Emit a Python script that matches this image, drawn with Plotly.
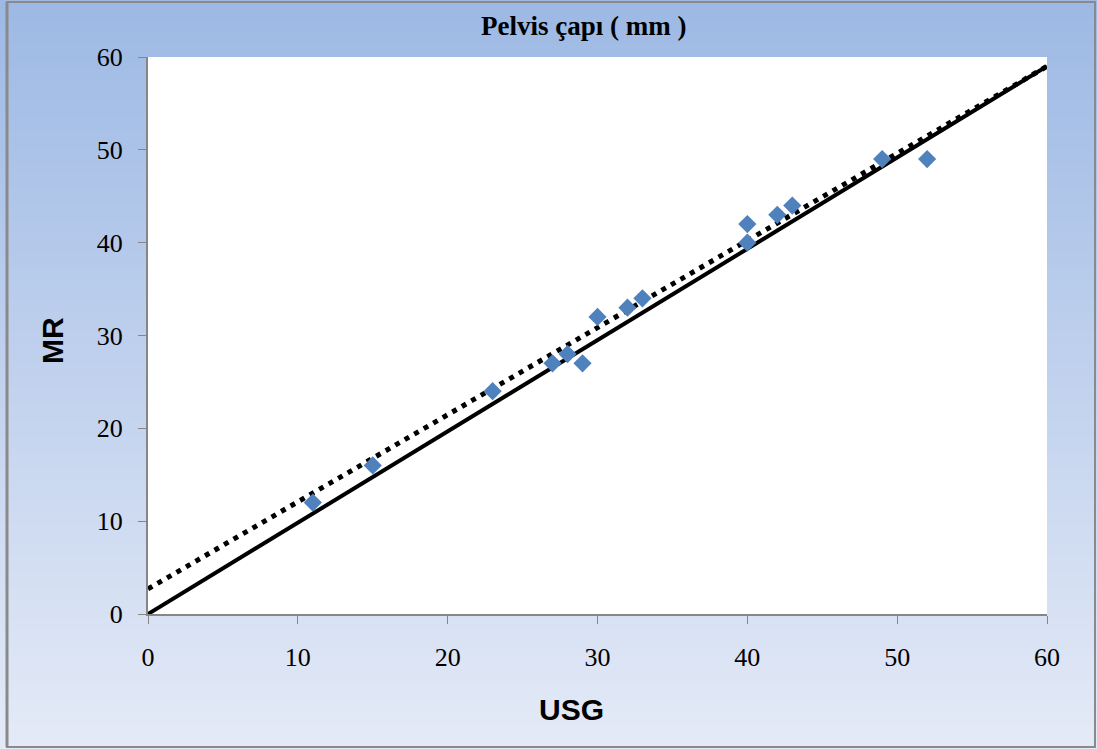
import plotly.graph_objects as go

# ---- data ----
usg = [11, 15, 23, 27, 28, 29, 30, 32, 33, 40, 40, 42, 43, 49, 52]
mr = [12, 16, 24, 27, 28, 27, 32, 33, 34, 40, 42, 43, 44, 49, 49]

identity_x = [0, 60]
identity_y = [0, 59]
trend_x = [0, 60]
trend_y = [2.7, 59]

x_ticks = [0, 10, 20, 30, 40, 50, 60]
y_ticks = [0, 10, 20, 30, 40, 50, 60]

title_text = "Pelvis çapı ( mm )"
x_title = "USG"
y_title = "MR"

# ---- layout geometry (pixels) ----
W, H = 1097, 749
L, R, T, B = 148, 1047, 57, 614
pw, ph = R - L, B - T


def px(xp):
    return (xp - L) / pw


def py(yp):
    return (B - yp) / ph


fig = go.Figure()

fig.add_trace(go.Scatter(
    x=identity_x, y=identity_y, mode="lines",
    line=dict(color="black", width=4), showlegend=False, hoverinfo="skip"))
fig.add_trace(go.Scatter(
    x=trend_x, y=trend_y, mode="lines",
    line=dict(color="black", width=5, dash="5px,6px"), showlegend=False, hoverinfo="skip"))
fig.add_trace(go.Scatter(
    x=usg, y=mr, mode="markers",
    marker=dict(symbol="diamond", size=14, color="#4F81BD"), showlegend=False))

# gradient background
shapes = []
n = 120
top = (157, 185, 228)
bot = (228, 234, 247)
for i in range(n):
    t = i / (n - 1)
    c = tuple(round(top[k] + (bot[k] - top[k]) * t) for k in range(3))
    y0 = i * H / n
    y1 = (i + 1) * H / n + 1
    shapes.append(dict(type="rect", xref="paper", yref="paper",
                       x0=px(0), x1=px(W), y0=py(y1), y1=py(y0),
                       fillcolor="rgb(%d,%d,%d)" % c, line=dict(width=0), layer="below"))
# white plot area
shapes.append(dict(type="rect", xref="paper", yref="paper", x0=0, x1=1, y0=0, y1=1,
                   fillcolor="white", line=dict(width=0), layer="below"))
# outer frame
shapes.append(dict(type="rect", xref="paper", yref="paper",
                   x0=px(7), x1=px(1095), y0=py(747), y1=py(2),
                   fillcolor="rgba(0,0,0,0)", line=dict(color="#8a8a8a", width=2), layer="above"))
shapes.append(dict(type="line", xref="paper", yref="paper",
                   x0=px(7), x1=px(7), y0=py(747), y1=py(2),
                   line=dict(color="#8a8a8a", width=3), layer="above"))

fig.update_layout(
    width=W, height=H,
    margin=dict(l=L, r=W - R, t=T, b=H - B),
    paper_bgcolor="rgb(228,234,247)",
    plot_bgcolor="white",
    shapes=shapes,
    showlegend=False,
    annotations=[
        dict(text="<b>%s</b>" % title_text, xref="paper", yref="paper",
             x=px(583), y=py(26), showarrow=False, xanchor="center", yanchor="middle",
             font=dict(family="Liberation Serif", size=27, color="black")),
        dict(text="<b>%s</b>" % y_title, xref="paper", yref="paper",
             x=px(52), y=py(341), showarrow=False, textangle=-90,
             xanchor="center", yanchor="middle",
             font=dict(family="Liberation Sans", size=30, color="black")),
        dict(text="<b>%s</b>" % x_title, xref="paper", yref="paper",
             x=px(571), y=py(709), showarrow=False,
             xanchor="center", yanchor="middle",
             font=dict(family="Liberation Sans", size=30, color="black")),
    ],
)

fig.update_xaxes(range=[0, 60], tickvals=x_ticks, ticks="outside", ticklen=8,
                 tickcolor="#868686", tickwidth=1, showline=True, linecolor="#868686",
                 linewidth=2, showgrid=False, zeroline=False, ticklabelstandoff=11,
                 tickfont=dict(family="Liberation Serif", size=26, color="black"))
fig.update_yaxes(range=[0, 60], tickvals=y_ticks, ticks="outside", ticklen=8,
                 tickcolor="#868686", tickwidth=1, showline=True, linecolor="#868686",
                 linewidth=2, showgrid=False, zeroline=False, ticklabelstandoff=10,
                 tickfont=dict(family="Liberation Serif", size=26, color="black"))

fig.write_html("out.html", config={"displayModeBar": False},
               post_script="document.body.style.margin='0';document.body.style.overflow='hidden';")
